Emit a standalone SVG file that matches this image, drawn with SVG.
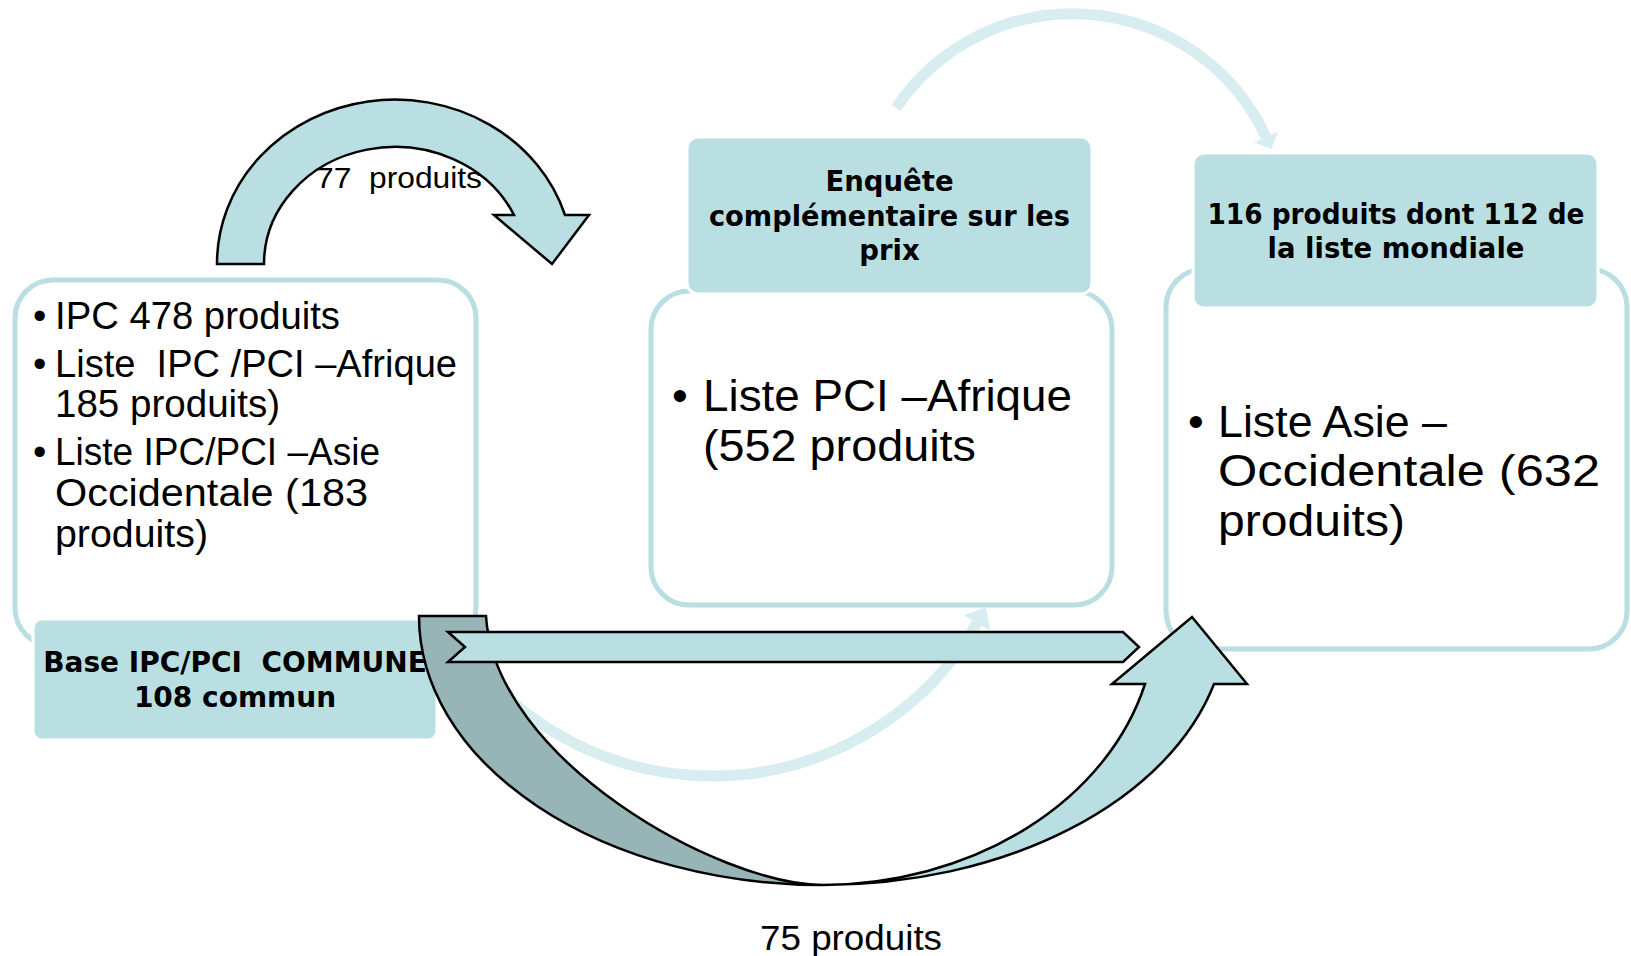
<svg xmlns="http://www.w3.org/2000/svg" width="1631" height="956" viewBox="0 0 1631 956">
<style>
.box{fill:#ffffff;stroke:#b9dfe2;stroke-width:5}
.hdr{fill:#b9dfe2;stroke:#ffffff;stroke-width:3}
.arw{fill:#b9dfe2;stroke:#000000;stroke-width:2.5;stroke-linejoin:miter}
.arwd{fill:#97b4b6;stroke:#000000;stroke-width:2.5;stroke-linejoin:miter}
.faint{fill:none;stroke:#d8edef;stroke-width:11}
.fhead{fill:#d8edef}
.t{font-family:"Liberation Sans",Arial,sans-serif;fill:#000000}
.b{font-family:"DejaVu Sans","Liberation Sans",sans-serif;font-weight:bold;fill:#000000;text-anchor:middle}
.pre{white-space:pre}
</style>
<rect width="1631" height="956" fill="#ffffff"/>

<g id="background-arcs">
  <path class="faint" d="M896,108 A213,213 0 0 1 1266,137"/>
  <polygon class="fhead" points="1254,142.5 1278,131.5 1271.5,149"/>
  <path class="faint" d="M447,623 A306,306 0 0 0 977,623"/>
  <polygon class="fhead" points="964,615.5 990,630.5 986,607"/>
</g>

<g id="node-left">
  <rect class="box" x="15" y="280" width="461" height="366" rx="38"/>
  <g class="t" font-size="38">
    <text x="33" y="329">•</text>
    <text x="55" y="329" textLength="285" lengthAdjust="spacingAndGlyphs">IPC 478 produits</text>
    <text x="33" y="377">•</text>
    <text class="pre" xml:space="preserve" x="55" y="377" textLength="402" lengthAdjust="spacingAndGlyphs">Liste  IPC /PCI –Afrique</text>
    <text x="55" y="417" textLength="225" lengthAdjust="spacingAndGlyphs">185 produits)</text>
    <text x="33" y="465">•</text>
    <text x="55" y="465" textLength="325" lengthAdjust="spacingAndGlyphs">Liste IPC/PCI –Asie</text>
    <text x="55" y="506" textLength="313" lengthAdjust="spacingAndGlyphs">Occidentale (183</text>
    <text x="55" y="547" textLength="153" lengthAdjust="spacingAndGlyphs">produits)</text>
  </g>
  <g id="node-label">
    <rect class="hdr" x="33" y="619" width="404" height="121" rx="9"/>
    <g class="b" font-size="28">
      <text class="pre" xml:space="preserve" x="235" y="672">Base IPC/PCI  COMMUNE</text>
      <text x="235" y="707">108 commun</text>
    </g>
  </g>
</g>

<g id="node-mid">
  <rect class="box" x="651" y="291" width="461" height="314" rx="38"/>
  <rect class="hdr" x="687" y="137" width="405" height="157" rx="11"/>
  <g class="b" font-size="27.5">
    <text x="889.5" y="191">Enquête</text>
    <text x="889.5" y="226" textLength="361" lengthAdjust="spacingAndGlyphs">complémentaire sur les</text>
    <text x="889.5" y="260">prix</text>
  </g>
  <g class="t" font-size="45">
    <text x="672" y="411">•</text>
    <text x="703" y="411" textLength="369" lengthAdjust="spacingAndGlyphs">Liste PCI –Afrique</text>
    <text x="703" y="461" textLength="273" lengthAdjust="spacingAndGlyphs">(552 produits</text>
  </g>
</g>

<g id="node-right">
  <rect class="box" x="1166" y="269" width="461" height="380" rx="38"/>
  <rect class="hdr" x="1193" y="153" width="405" height="155" rx="11"/>
  <g class="b" font-size="27.5">
    <text x="1396" y="224" textLength="377" lengthAdjust="spacingAndGlyphs">116 produits dont 112 de</text>
    <text x="1396" y="258">la liste mondiale</text>
  </g>
  <g class="t" font-size="45">
    <text x="1188" y="437">•</text>
    <text x="1218" y="437" textLength="229" lengthAdjust="spacingAndGlyphs">Liste Asie –</text>
    <text x="1218" y="486" textLength="382" lengthAdjust="spacingAndGlyphs">Occidentale (632</text>
    <text x="1218" y="536" textLength="187" lengthAdjust="spacingAndGlyphs">produits)</text>
  </g>
</g>

<g id="connectors">
  <g id="arrow-77">
    <path class="arw" d="M217,264 A178,164 0 0 1 565,215 L589,215 L552,264 L494,215 L514,215 A131,117 0 0 0 264,264 Z"/>
    <text class="t pre" xml:space="preserve" font-size="29" x="316" y="188" textLength="166" lengthAdjust="spacingAndGlyphs">77  produits</text>
  </g>
  <g id="arrow-75">
    <path class="arwd" d="M419,616 L486,616 C495,760 720,885 823,885 A404,269 0 0 1 419,616 Z"/>
    <path class="arw" d="M823,885 A404,269 0 0 0 1214,684 L1247,684 L1192,617 L1112,684 L1145,684 A335,269 0 0 1 823,885 Z"/>
    <text class="t" font-size="35" x="760" y="950" textLength="182" lengthAdjust="spacingAndGlyphs">75 produits</text>
  </g>
  <g id="arrow-straight">
    <polygon class="arw" points="448,632 1123,632 1139,647 1123,662 448,662 465,647"/>
  </g>
</g>
</svg>
